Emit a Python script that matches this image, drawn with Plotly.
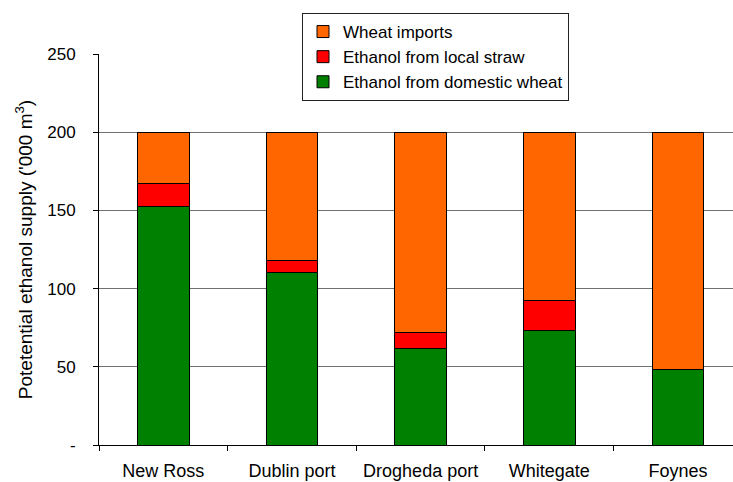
import plotly.graph_objects as go

categories = ["New Ross", "Dublin port", "Drogheda port", "Whitegate", "Foynes"]
domestic_wheat = [152.5, 110.5, 62, 73.5, 48]
local_straw = [15, 7.5, 10, 19, 0.5]
wheat_imports = [32.5, 82, 128, 107.5, 151.5]
y_tickvals = [0, 50, 100, 150, 200, 250]
y_ticktext = ["-", "50", "100", "150", "200", "250"]

fig = go.Figure()
series = [
    ("Ethanol from domestic wheat", domestic_wheat, "#008000"),
    ("Ethanol from local straw", local_straw, "#FF0000"),
    ("Wheat imports", wheat_imports, "#FF6600"),
]
for name, vals, col in series:
    fig.add_trace(go.Bar(
        x=categories, y=vals, name=name, width=0.4,
        marker=dict(color=col, line=dict(color="black", width=1)),
    ))

L, R, T, B = 99, 0, 54, 37
plot_w = 733 - L - R
plot_h = 482 - T - B

fig.update_layout(
    barmode="stack",
    width=733, height=482,
    margin=dict(l=L, r=R, t=T, b=B),
    paper_bgcolor="white", plot_bgcolor="white",
    font=dict(family="Liberation Sans, Arial, sans-serif", size=17, color="black"),
    showlegend=True,
    legend=dict(
        traceorder="reversed",
        x=(302 - L) / plot_w, y=(482 - B - 13) / plot_h,
        xanchor="left", yanchor="top",
        bgcolor="white", bordercolor="#222", borderwidth=1,
        font=dict(size=17),
        tracegroupgap=0, itemwidth=30,
    ),
    xaxis=dict(
        range=[-0.5, 4.428],
        showline=True, linecolor="black", linewidth=1,
        ticks="outside", tickson="boundaries", ticklen=5, tickcolor="black",
        showgrid=False,
        tickfont=dict(size=18),
        ticklabelstandoff=9,
    ),
    yaxis=dict(
        range=[0, 250],
        tickvals=y_tickvals, ticktext=y_ticktext,
        showline=True, linecolor="black", linewidth=1,
        ticks="outside", ticklen=5, tickcolor="black",
        showgrid=True, gridcolor="#707070", gridwidth=1,
        zeroline=False,
        tickfont=dict(size=17),
        ticklabelstandoff=14,
        title=dict(text="Potetential ethanol supply ('000 m<sup>3</sup>)", font=dict(size=19), standoff=9),
    ),
)

fig.write_html("out.html")
